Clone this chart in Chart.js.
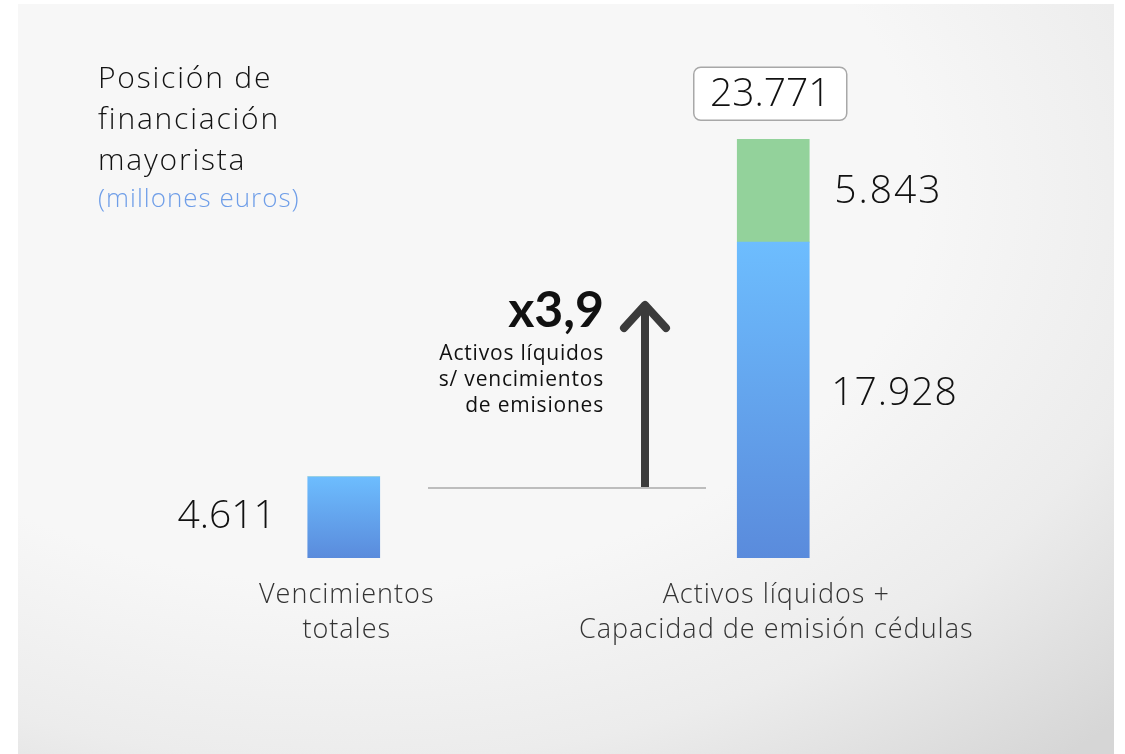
<!DOCTYPE html>
<html lang="es">
<head>
<meta charset="utf-8">
<title>Posición de financiación mayorista</title>
<script src="https://cdn.jsdelivr.net/npm/chart.js@4.4.1/dist/chart.umd.min.js"></script>
<style>
  html, body { margin: 0; padding: 0; background: #ffffff; }
  #marco {
    position: absolute; left: 18px; top: 4px; width: 1096px; height: 750px;
    background: radial-gradient(ellipse 95% 95% at 30% 25%, #f7f7f7 55%, #ececec 80%, #d6d6d6 105%);
  }
  #grafico { position: absolute; left: 0; top: 0; }
</style>
</head>
<body>
<div id="marco"></div>
<canvas id="grafico" width="1125" height="754"></canvas>
<script>
    // Datos del gráfico
    const categorias = [["Vencimientos", "totales"], ["Activos líquidos +", "Capacidad de emisión cédulas"]];
    const serieAzul = [4611, 17928];   // vencimientos / activos líquidos
    const serieVerde = [0, 5843];      // capacidad de emisión de cédulas
    const titulo = ["Posición de", "financiación", "mayorista"];
    const subtitulo = "(millones euros)";
    const multiplicador = "x3,9";
    const notaMultiplicador = ["Activos líquidos", "s/ vencimientos", "de emisiones"];

    const FUENTE = "'Open Sans', Lato, sans-serif";
    const FUENTE_NEGRITA = "Lato, 'Open Sans', sans-serif";

    // Formato con punto de miles (4.611)
    function formatoMiles(valor) {
      return String(Math.round(valor)).replace(/\B(?=(\d{3})+(?!\d))/g, ".");
    }

    // Degradado azul para cada barra
    function degradadoAzul(context) {
      const chart = context.chart;
      if (!chart.chartArea) {
        return "#64a8f2";
      }
      const y = chart.scales.y;
      const arriba = y.getPixelForValue(context.raw);
      const abajo = y.getPixelForValue(0);
      const g = chart.ctx.createLinearGradient(0, arriba, 0, abajo);
      g.addColorStop(0, "#6dbdfe");
      g.addColorStop(1, "#5a8bdc");
      return g;
    }

    // Plugin para textos, etiquetas y flecha
    const decoracion = {
      id: "decoracion",
      afterDatasetsDraw(chart) {
        const ctx = chart.ctx;
        const metaAzul = chart.getDatasetMeta(0);
        const metaVerde = chart.getDatasetMeta(1);
        const y = chart.scales.y;
        ctx.save();

        // Título
        ctx.fillStyle = "#111111";
        ctx.textAlign = "left";
        ctx.textBaseline = "alphabetic";
        ctx.font = "300 30px " + FUENTE;
        ctx.letterSpacing = "1.8px";
        titulo.forEach(function(linea, i) {
          ctx.fillText(linea, 98, 88 + i * 41);
        });
        ctx.fillStyle = "#6f9ee8";
        ctx.font = "300 26px " + FUENTE;
        ctx.letterSpacing = "1px";
        ctx.fillText(subtitulo, 98, 207);

        // Etiquetas de categoría
        ctx.fillStyle = "#333333";
        ctx.textAlign = "center";
        ctx.font = "300 27px " + FUENTE;
        ctx.letterSpacing = "1px";
        categorias.forEach(function(lineas, i) {
          const x = metaAzul.data[i].x;
          lineas.forEach(function(linea, j) {
            ctx.fillText(linea, x + 3, 603 + j * 35);
          });
        });
        ctx.letterSpacing = "0px";

        // Valores
        ctx.fillStyle = "#111111";
        ctx.font = "300 39px " + FUENTE;
        ctx.textBaseline = "middle";

        const barra0 = metaAzul.data[0];
        ctx.textAlign = "right";
        ctx.fillText(formatoMiles(serieAzul[0]), barra0.x - barra0.width / 2 - 32, (barra0.y + barra0.base) / 2);

        const barra1 = metaAzul.data[1];
        ctx.textAlign = "left";
        ctx.letterSpacing = "1px";
        ctx.fillText(formatoMiles(serieAzul[1]), barra1.x + barra1.width / 2 + 22, (barra1.y + barra1.base) / 2 - 6);

        const verde1 = metaVerde.data[1];
        ctx.letterSpacing = "2px";
        ctx.fillText(formatoMiles(serieVerde[1]), verde1.x + verde1.width / 2 + 25, (verde1.y + verde1.base) / 2 + 1);
        ctx.letterSpacing = "0px";

        // Caja con el total
        const total = serieAzul[1] + serieVerde[1];
        const yTotal = y.getPixelForValue(total);
        const anchoCaja = 153, altoCaja = 53;
        const xCaja = verde1.x - 3 - anchoCaja / 2;
        const yCaja = yTotal - 19 - altoCaja;
        ctx.beginPath();
        ctx.roundRect(xCaja, yCaja, anchoCaja, altoCaja, 7);
        ctx.fillStyle = "#ffffff";
        ctx.fill();
        ctx.lineWidth = 1.5;
        ctx.strokeStyle = "#a8a8a8";
        ctx.stroke();
        ctx.fillStyle = "#111111";
        ctx.textAlign = "center";
        ctx.fillText(formatoMiles(total), xCaja + anchoCaja / 2, yCaja + altoCaja / 2 + 1);

        // Línea base y flecha
        ctx.beginPath();
        ctx.moveTo(428, 488);
        ctx.lineTo(706, 488);
        ctx.lineWidth = 2;
        ctx.strokeStyle = "#bdbdbd";
        ctx.stroke();

        ctx.strokeStyle = "#3b3b3b";
        ctx.lineWidth = 8;
        ctx.lineCap = "butt";
        ctx.beginPath();
        ctx.moveTo(645, 487);
        ctx.lineTo(645, 306);
        ctx.stroke();
        ctx.lineCap = "round";
        ctx.lineJoin = "round";
        ctx.beginPath();
        ctx.moveTo(624, 328);
        ctx.lineTo(645, 305);
        ctx.lineTo(666, 328);
        ctx.stroke();

        // Multiplicador
        ctx.fillStyle = "#111111";
        ctx.textAlign = "right";
        ctx.textBaseline = "alphabetic";
        ctx.font = "700 50px " + FUENTE_NEGRITA;
        ctx.fillText(multiplicador, 604, 327);
        ctx.font = "400 21px " + FUENTE;
        ctx.letterSpacing = "0.8px";
        notaMultiplicador.forEach(function(linea, i) {
          ctx.fillText(linea, 604, 360 + i * 26);
        });

        ctx.restore();
      }
    };

    const ctx = document.getElementById("grafico").getContext("2d");
    new Chart(ctx, {
      type: "bar",
      data: {
        labels: categorias,
        datasets: [{
          label: "Azul",
          data: serieAzul,
          backgroundColor: degradadoAzul,
          borderWidth: 0,
          barThickness: 72
        }, {
          label: "Verde",
          data: serieVerde,
          backgroundColor: "#93d29b",
          borderWidth: 0,
          barThickness: 72
        }]
      },
      options: {
        responsive: false,
        animation: false,
        layout: {
          padding: { left: 129, right: 137, top: 100, bottom: 196 }
        },
        plugins: {
          legend: { display: false },
          tooltip: { enabled: false }
        },
        scales: {
          x: { stacked: true, display: false, grid: { display: false } },
          y: { stacked: true, display: false, min: 0, max: 26000, grid: { display: false } }
        }
      },
      plugins: [decoracion]
    });
</script>
</body>
</html>
